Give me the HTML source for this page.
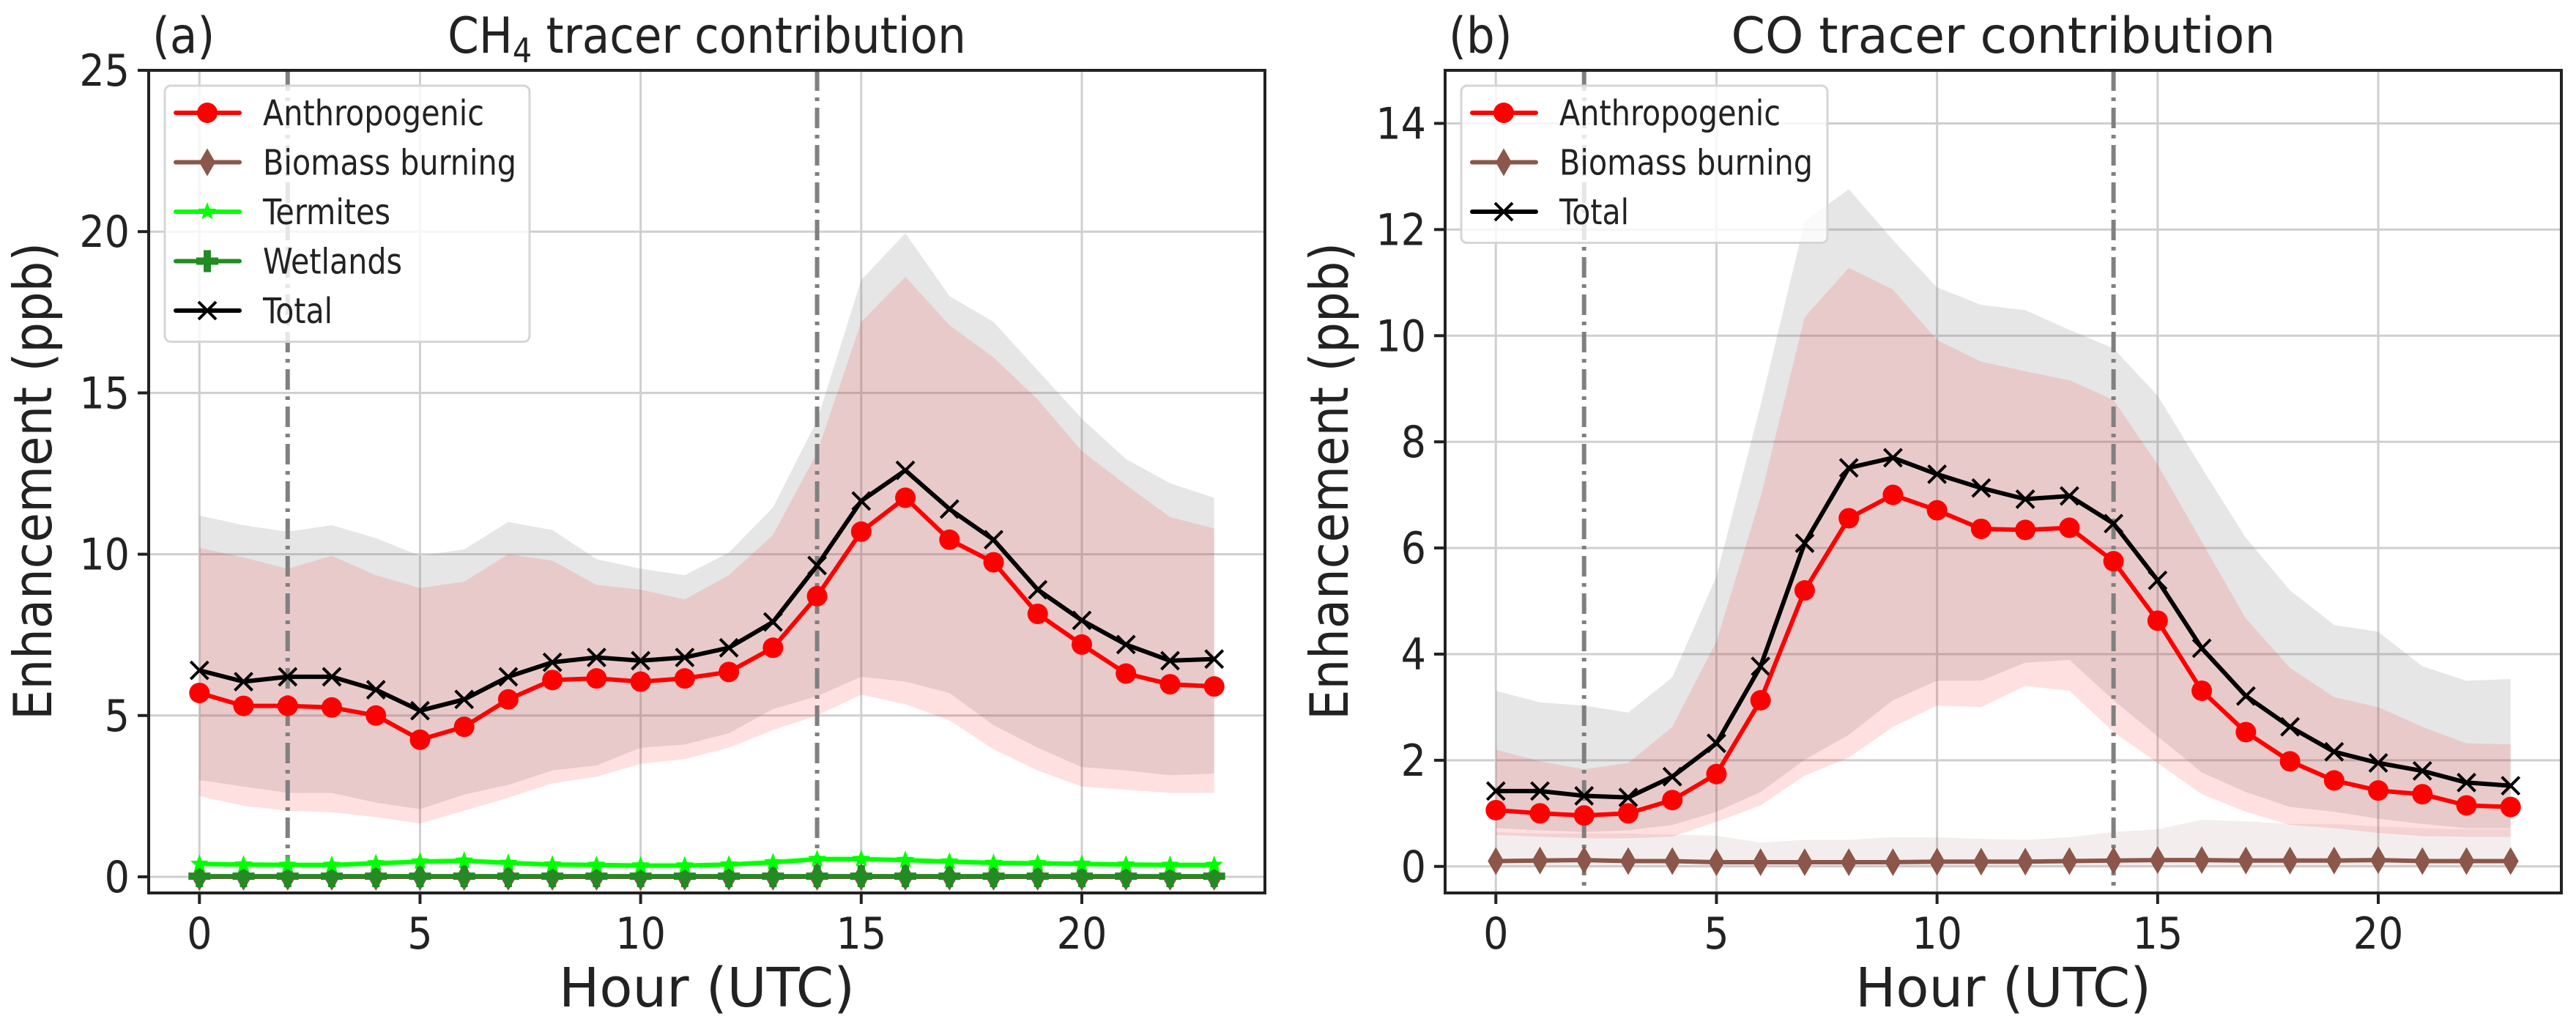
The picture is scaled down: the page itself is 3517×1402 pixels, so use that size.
<!DOCTYPE html>
<html><head><meta charset="utf-8"><style>
html,body{margin:0;padding:0;background:#fff;}
svg{display:block;font-family:"DejaVu Sans Condensed","DejaVu Sans","Liberation Sans",sans-serif;}
</style></head><body>
<svg id="fig" width="3517" height="1402" viewBox="0 0 3517 1402" xmlns="http://www.w3.org/2000/svg"></svg>
<script>
const hours = [0,1,2,3,4,5,6,7,8,9,10,11,12,13,14,15,16,17,18,19,20,21,22,23];
// Panel a (CH4)
const ch4Anthro = [5.7,5.3,5.3,5.25,5.0,4.25,4.65,5.5,6.1,6.15,6.05,6.15,6.35,7.1,8.7,10.7,11.75,10.45,9.75,8.15,7.2,6.3,5.97,5.9];
const ch4AnthroHi = [10.2,9.9,9.55,9.95,9.35,8.95,9.15,10.0,9.8,9.05,8.9,8.6,9.35,10.6,13.15,17.2,18.6,17.1,16.1,14.8,13.2,12.15,11.15,10.8];
const ch4AnthroLo = [2.5,2.2,2.05,2.0,1.85,1.65,2.05,2.45,2.9,3.1,3.5,3.65,4.0,4.55,5.0,5.65,5.35,4.85,3.95,3.3,2.8,2.7,2.6,2.6];
const ch4Total = [6.4,6.05,6.2,6.2,5.8,5.15,5.5,6.2,6.65,6.8,6.7,6.8,7.1,7.9,9.65,11.65,12.6,11.4,10.45,8.9,7.95,7.2,6.7,6.75];
const ch4TotalHi = [11.2,10.9,10.7,10.9,10.5,9.95,10.15,11.0,10.75,9.85,9.55,9.35,10.05,11.45,14.15,18.5,19.95,18.0,17.2,15.7,14.2,12.95,12.2,11.75];
const ch4TotalLo = [3.0,2.8,2.6,2.6,2.3,2.1,2.55,2.85,3.3,3.45,4.0,4.1,4.45,5.2,5.6,6.2,6.05,5.7,4.7,4.0,3.4,3.3,3.15,3.2];
const ch4Termites = [0.4,0.38,0.37,0.37,0.42,0.47,0.5,0.43,0.38,0.37,0.35,0.35,0.38,0.45,0.55,0.55,0.52,0.47,0.43,0.42,0.4,0.38,0.37,0.37];
const ch4Wetlands = [0.02,0.02,0.02,0.02,0.02,0.02,0.02,0.02,0.02,0.02,0.02,0.02,0.02,0.02,0.02,0.02,0.02,0.02,0.02,0.02,0.02,0.02,0.02,0.02];
const ch4Biomass = [0,0,0,0,0,0,0,0,0,0,0,0,0,0,0,0,0,0,0,0,0,0,0,0];
const ch4Ticks = [0,5,10,15,20,25];
// Panel b (CO)
const coAnthro = [1.06,1.0,0.96,1.0,1.25,1.74,3.13,5.2,6.56,7.0,6.71,6.36,6.34,6.38,5.75,4.63,3.31,2.53,1.98,1.62,1.43,1.36,1.15,1.12];
const coAnthroHi = [2.2,1.98,1.83,1.95,2.63,4.24,6.96,10.35,11.28,10.87,9.92,9.51,9.33,9.16,8.79,7.57,6.12,4.67,3.74,3.19,3.0,2.63,2.32,2.3];
const coAnthroLo = [0.59,0.56,0.53,0.53,0.56,0.84,1.15,1.71,2.05,2.63,3.03,3.0,3.4,3.31,2.53,1.95,1.36,1.03,0.78,0.72,0.63,0.57,0.56,0.56];
const coTotal = [1.42,1.42,1.33,1.3,1.69,2.32,3.77,6.09,7.51,7.7,7.39,7.13,6.92,6.98,6.46,5.39,4.11,3.21,2.63,2.16,1.95,1.8,1.58,1.52];
const coTotalHi = [3.31,3.09,3.03,2.9,3.56,5.47,8.69,12.15,12.76,11.8,10.91,10.58,10.48,10.11,9.76,8.87,7.51,6.19,5.2,4.55,4.42,3.77,3.5,3.53];
const coTotalLo = [0.72,0.68,0.65,0.68,0.78,1.03,1.4,2.01,2.48,3.13,3.5,3.5,3.84,3.89,3.13,2.45,1.77,1.4,1.12,1.03,0.9,0.8,0.72,0.72];
const coBiomass = [0.1,0.11,0.12,0.1,0.1,0.08,0.08,0.08,0.08,0.08,0.09,0.09,0.09,0.1,0.11,0.12,0.12,0.11,0.11,0.11,0.12,0.1,0.1,0.1];
const coBiomassHi = [0.65,0.62,0.62,0.62,0.6,0.58,0.45,0.5,0.5,0.55,0.55,0.52,0.5,0.55,0.65,0.7,0.88,0.85,0.8,0.8,0.75,0.72,0.7,0.7];
const coTicks = [0,2,4,6,8,10,12,14];
const xTicks = [0,5,10,15,20];
const vLines = [2,14];

const NS = "http://www.w3.org/2000/svg";
const fig = document.getElementById('fig');
function mk(tag, attrs, parent){
  const e = document.createElementNS(NS, tag);
  for (const k in attrs) e.setAttribute(k, attrs[k]);
  (parent||fig).appendChild(e);
  return e;
}

function marker(g, type, cx, cy, color){
  let e;
  if (type==='o'){ e = mk('circle',{cx:cx,cy:cy,r:14,fill:color},g); }
  else if (type==='d'){ e = mk('polygon',{points:`${cx},${cy-19} ${cx+11},${cy} ${cx},${cy+19} ${cx-11},${cy}`,fill:color},g); }
  else if (type==='*'){
    let p=[]; for(let i=0;i<10;i++){const r=i%2?5.5:13;const a=-Math.PI/2+i*Math.PI/5;p.push((cx+r*Math.cos(a)).toFixed(1)+','+(cy+r*Math.sin(a)).toFixed(1));}
    e = mk('polygon',{points:p.join(' '),fill:color},g);
  }
  else if (type==='P'){ e = mk('path',{d:`M${cx-5},${cy-15}h10v10h10v10h-10v10h-10v-10h-10v-10h10z`,fill:color},g); }
  else if (type==='x'){ e = mk('path',{d:`M${cx-12},${cy-12}L${cx+12},${cy+12}M${cx-12},${cy+12}L${cx+12},${cy-12}`,stroke:color,'stroke-width':4,fill:'none'},g); }
  return e;
}

function panel(cfg){
  const L=cfg.left, R=cfg.right, T=96, B=1219;
  const X = h => L + (h - (-1.15)) / (25.3) * (R-L);
  const Y = v => B - (v - cfg.ymin) / (cfg.ymax - cfg.ymin) * (B-T);
  const g = mk('g',{});
  
  
  for (const t of xTicks){ const l=mk('line',{x1:X(t),x2:X(t),y1:T,y2:B,stroke:'#cfcfcf','stroke-width':3},g);   }
  for (const t of cfg.yticks){ const l=mk('line',{x1:L,x2:R,y1:Y(t),y2:Y(t),stroke:'#cfcfcf','stroke-width':3},g);   }
  function band(hi, lo, fill, nm){
    let d='M'+hours.map((h,i)=>X(h).toFixed(1)+','+Y(hi[i]).toFixed(1)).join('L');
    d+='L'+hours.slice().reverse().map((h,j)=>{const i=hours.length-1-j;return X(h).toFixed(1)+','+Y(lo[i]).toFixed(1);}).join('L')+'Z';
    const p=mk('path',{d:d,fill:fill,stroke:'none'},g);
     
  }
  for (const b of cfg.bands) band(b[0],b[1],b[2],b[3]);
  for (const v of vLines){ const l=mk('line',{x1:X(v),x2:X(v),y1:T,y2:B,stroke:'#808080','stroke-width':6,'stroke-dasharray':'28,9,5,9'},g);   }
  for (const s of cfg.series){
    const sg=mk('g',{},g);
    
    
    mk('polyline',{points:hours.map((h,i)=>X(h).toFixed(1)+','+Y(s.data[i]).toFixed(1)).join(' '),fill:'none',stroke:s.color,'stroke-width':6,'stroke-linejoin':'round'},sg);
    hours.forEach((h,i)=>{ const m=marker(sg,s.m,X(h),Y(s.data[i]),s.color);   });
  }
  const sp=mk('rect',{x:L,y:T,width:R-L,height:B-T,fill:'none',stroke:'#222','stroke-width':4},g);
   
  for (const t of xTicks){
    mk('line',{x1:X(t),x2:X(t),y1:B,y2:B+15,stroke:'#222','stroke-width':4},g);
    const tx=mk('text',{x:X(t),y:B+76,'font-size':60,'text-anchor':'middle',fill:'#222'},g); tx.textContent=t;
     
  }
  for (const t of cfg.yticks){
    mk('line',{x1:L-15,x2:L,y1:Y(t),y2:Y(t),stroke:'#222','stroke-width':4},g);
    const tx=mk('text',{x:L-26,y:Y(t)+21,'font-size':60,'text-anchor':'end',fill:'#222'},g); tx.textContent=t;
     
  }
  const xl=mk('text',{x:(L+R)/2,y:1374,'font-size':74,'text-anchor':'middle',fill:'#222',textLength:404,lengthAdjust:'spacingAndGlyphs'},g);
  xl.textContent='Hour (UTC)';  
  const yl=mk('text',{x:0,y:0,'font-size':72,'text-anchor':'middle',fill:'#222',textLength:652,lengthAdjust:'spacingAndGlyphs',transform:`translate(${L-133},657) rotate(-90)`},g);
  yl.textContent='Enhancement (ppb)';  
  const pl=mk('text',{x:L+5,y:72,'font-size':68,fill:'#222'},g);
  pl.textContent=cfg.letter;  
  const ti=mk('text',{x:(L+R)/2,y:72,'font-size':68,'text-anchor':'middle',fill:'#222'},g);
   
  if (cfg.sub){ ti.appendChild(document.createTextNode('CH')); const ts=document.createElementNS(NS,'tspan'); ts.setAttribute('font-size','46'); ts.setAttribute('dy','13'); ts.textContent='4'; ti.appendChild(ts); const t2=document.createElementNS(NS,'tspan'); t2.setAttribute('dy','-13'); t2.textContent=' tracer contribution'; ti.appendChild(t2); }
  else { ti.textContent=cfg.title; ti.setAttribute('textLength','743'); ti.setAttribute('lengthAdjust','spacingAndGlyphs'); }
  const lg=mk('g',{},g);
   
  const n=cfg.legend.length;
  mk('rect',{x:L+22,y:117,width:cfg.legW,height:n*67.5+12,rx:8,fill:'rgba(255,255,255,0.8)',stroke:'#d6d6d6','stroke-width':3},lg);
  cfg.legend.forEach((e,i)=>{
    const y=154+i*67.5;
    const eg=mk('g',{},lg);
     
    mk('line',{x1:L+37,x2:L+124,y1:y,y2:y,stroke:e.color,'stroke-width':6,'stroke-linecap':'round'},eg);
    marker(eg,e.m,L+80,y,e.color);
    const t=mk('text',{x:L+156,y:y+17,'font-size':48,fill:'#222',textLength:e.w,lengthAdjust:'spacingAndGlyphs'},eg);
    t.textContent=e.label;
  });
}

panel({name:'ch4-panel',letter:'(a)',sub:true,left:203,right:1727,ymin:-0.5,ymax:25,yticks:ch4Ticks,legW:498,
  bands:[[ch4TotalHi,ch4TotalLo,'rgba(128,128,128,0.2)','total-range'],[ch4AnthroHi,ch4AnthroLo,'rgba(255,0,0,0.12)','anthropogenic-range'],[ch4Termites.map(v=>v+0.12),ch4Termites.map(v=>v-0.12),'rgba(0,255,0,0.1)','termites-range']],
  series:[{name:'biomass-series',data:ch4Biomass,color:'#8c564b',m:'d'},{name:'wetlands-series',data:ch4Wetlands,color:'#228b22',m:'P'},{name:'termites-series',data:ch4Termites,color:'#00ff00',m:'*'},{name:'total-series',data:ch4Total,color:'#000',m:'x'},{name:'anthropogenic-series',data:ch4Anthro,color:'#ff0000',m:'o'}],
  legend:[{label:'Anthropogenic',color:'#ff0000',m:'o',w:302},{label:'Biomass burning',color:'#8c564b',m:'d',w:346},{label:'Termites',color:'#00ff00',m:'*',w:174},{label:'Wetlands',color:'#228b22',m:'P',w:190},{label:'Total',color:'#000',m:'x',w:95}]});

panel({name:'co-panel',letter:'(b)',title:'CO tracer contribution',left:1973,right:3497,ymin:-0.5,ymax:15,yticks:coTicks,legW:500,
  bands:[[coTotalHi,coTotalLo,'rgba(128,128,128,0.2)','total-range'],[coAnthroHi,coAnthroLo,'rgba(255,0,0,0.12)','anthropogenic-range'],[coBiomassHi,coBiomass.map(v=>0),'rgba(140,86,75,0.1)','biomass-range']],
  series:[{name:'biomass-series',data:coBiomass,color:'#8c564b',m:'d'},{name:'total-series',data:coTotal,color:'#000',m:'x'},{name:'anthropogenic-series',data:coAnthro,color:'#ff0000',m:'o'}],
  legend:[{label:'Anthropogenic',color:'#ff0000',m:'o',w:302},{label:'Biomass burning',color:'#8c564b',m:'d',w:346},{label:'Total',color:'#000',m:'x',w:95}]});
</script>
</body></html>
